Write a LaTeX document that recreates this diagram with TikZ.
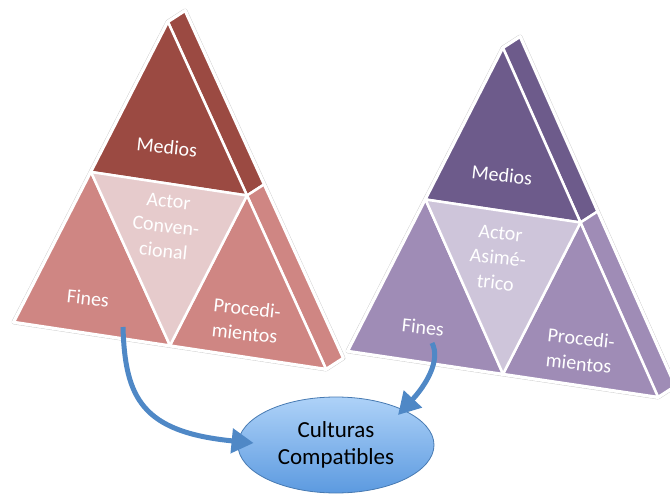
\documentclass[tikz,border=0pt]{standalone}
\usepackage{fontspec}
\setmainfont{Carlito}
\usetikzlibrary{calc,shapes.geometric,arrows.meta}

\definecolor{rojoosc}{HTML}{9B4A42}
\definecolor{rojomed}{HTML}{CF8683}
\definecolor{rojocla}{HTML}{E6CBCC}
\definecolor{lilaosc}{HTML}{6D5B8B}
\definecolor{lilamed}{HTML}{9F8CB6}
\definecolor{lilacla}{HTML}{CEC5DA}
\definecolor{cieloA}{HTML}{AED2F8}
\definecolor{cieloB}{HTML}{5C9AE0}
\definecolor{azul}{HTML}{4F88C6}

\tikzset{
  borde/.style={draw=gray!40, double=white, double distance=4pt, line join=round},
  pieza/.style={draw=white, line width=2.5pt, line join=round},
  texto/.style={text=white, align=center, rotate=-6, font=\fontsize{20}{25}\selectfont},
  flecha/.style={draw=azul, line width=5pt, -{Triangle[length=22pt,width=24pt]}}
}

% #1 prefix, #2 apex, #3 left, #4 right, #5 dark, #6 mid, #7 light
\newcommand\piramide[7]{%
  \coordinate (#1A) at #2;
  \coordinate (#1L) at #3;
  \coordinate (#1R) at #4;
  \coordinate (#1l) at ($(#1A)!.5!(#1L)$);
  \coordinate (#1r) at ($(#1A)!.5!(#1R)$);
  \coordinate (#1b) at ($(#1L)!.5!(#1R)$);
  \draw[borde] (#1L) -- (#1A) -- ++(17,-11) -- ($(#1R)+(17,-11)$) -- (#1R) -- cycle;
  \filldraw[pieza,fill=#5] (#1A) -- ++(17,-11) -- ($(#1r)+(17,-11)$) -- (#1r) -- cycle;
  \filldraw[pieza,fill=#6] (#1r) -- ($(#1r)+(17,-11)$) -- ($(#1R)+(17,-11)$) -- (#1R) -- cycle;
  \filldraw[pieza,fill=#5] (#1A) -- (#1l) -- (#1r) -- cycle;
  \filldraw[pieza,fill=#6] (#1l) -- (#1L) -- (#1b) -- cycle;
  \filldraw[pieza,fill=#6] (#1r) -- (#1b) -- (#1R) -- cycle;
  \filldraw[pieza,fill=#7] (#1l) -- (#1r) -- (#1b) -- cycle;
}

\begin{document}
\begin{tikzpicture}[x=1pt,y=-1pt]
  \useasboundingbox (0,0) rectangle (670,500);

  \piramide{c}{(168,22)}{(14,322)}{(326,369)}{rojoosc}{rojomed}{rojocla}
  \piramide{a}{(503,48)}{(348,351)}{(658,397)}{lilaosc}{lilamed}{lilacla}

  \node[texto] (cmedios) at (167,147) {Medios};
  \node[texto] (cactor)  at (166,226) {Actor\\Conven-\\cional};
  \node[texto] (cfines)  at (88,298)  {Fines};
  \node[texto] (cproc)   at (246,321) {Procedi-\\mientos};

  \node[texto] (amedios) at (502,175) {Medios};
  \node[texto] (aactor)  at (498,258) {Actor\\Asimé-\\trico};
  \node[texto] (afines)  at (423,327) {Fines};
  \node[texto] (aproc)   at (580,351) {Procedi-\\mientos};

  \node[ellipse, draw=azul!90!black, line width=0.8pt, top color=cieloA, bottom color=cieloB,
        minimum width=196pt, minimum height=96pt, align=center,
        font=\fontsize{23}{27}\selectfont] (cult) at (336,445) {Culturas\\Compatibles};

  \coordinate (cini) at (123,327);
  \coordinate (aini) at (432,343);
  \coordinate (cfin) at ($(cult.west)+(16,-2)$);
  \coordinate (afin) at ($(cult.center)+(62,-30)$);
  \draw[flecha] (cini) .. controls (125,398) and (142,432) .. (cfin);
  \draw[flecha] (aini) .. controls (441,360) and (426,385) .. (afin);
\end{tikzpicture}
\end{document}
